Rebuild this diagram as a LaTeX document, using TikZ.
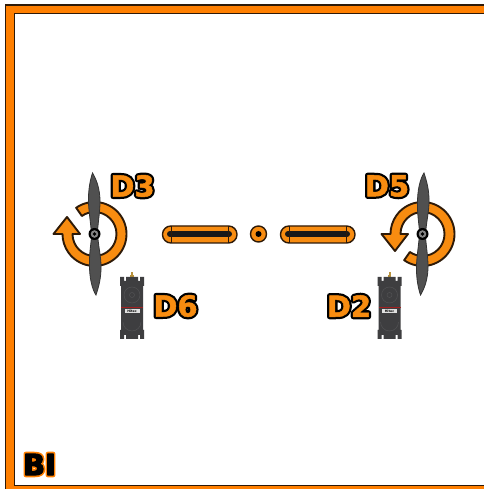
\documentclass[tikz,border=0pt]{standalone}
\usepackage{fontspec}
\setmainfont{DejaVu Sans}
\newfontfamily\heavyface{DejaVu Sans Bold}
\definecolor{band}{HTML}{FF7F00}
\definecolor{ringfill}{HTML}{F88C10}
\definecolor{edge}{HTML}{2E1A08}
\definecolor{blade}{HTML}{505050}
\definecolor{servobody}{HTML}{3E3E40}
\definecolor{servomark}{HTML}{525254}
\definecolor{stripe}{HTML}{A02020}
\definecolor{gold}{HTML}{B8923C}
\newcommand{\outlinedtext}[5]{\special{pdf:code 1 Tr #2 w 1 j #3 RG}\rlap{#1}\special{pdf:code 2 Tr #4 w #5 RG}#1\special{pdf:code 0 Tr 0 j}}
\tikzset{
  x=1pt,y=1pt,
  bandline/.style={draw=edge,line width=10pt},
  bandfill/.style={draw=band,line width=7.4pt},
  ringarrow/.style={fill=ringfill,draw=edge,line width=1.9pt,line join=round},
  bladeshape/.style={fill=blade,draw=black!80,line width=.8pt},
  capsule/.style={fill=ringfill,draw=edge,line width=1.4pt,rounded corners=8.4pt},
  capbar/.style={draw=black!90,line width=6pt,line cap=round},
  capline/.style={draw=edge,line width=1pt},
  big/.style={inner sep=0pt,font=\heavyface\fontsize{29}{30}\selectfont,text=ringfill},
  pics/rotor/.style={code={
    \path[ringarrow] (125:32) arc[start angle=125,end angle=-180,radius=32]
      -- (-41,0) -- (-27.5,17) -- (-14.5,0) -- (-22,0)
      arc[start angle=-180,end angle=125,radius=22] -- cycle;
    \path[bladeshape] (-3,0) .. controls (-4,14) and (-6.5,26) .. (-6,38)
      .. controls (-5.5,50) and (-3,58) .. (-2,61) .. controls (1,56) and (6,46) .. (5.5,30)
      .. controls (5,18) and (3,8) .. (3,0) -- cycle;
    \path[bladeshape] (3,0) .. controls (4,-14) and (7,-24) .. (6.5,-36)
      .. controls (6,-48) and (3,-56) .. (1.5,-61) .. controls (-2,-56) and (-5.5,-44) .. (-5,-28)
      .. controls (-5,-16) and (-3,-8) .. (-3,0) -- cycle;
    \fill[black] (0,0) circle[radius=6];
    \fill[blade!70!white] (0,0) circle[radius=3.8];
    \fill[black] (0,0) circle[radius=1.8];
  }},
  pics/servo/.style={code={
    \fill[gold] (-1,31) rectangle (1,36);
    \fill[gold] (-1.8,31) rectangle (1.8,33);
    \path[fill=servobody] (-12,31) -- (-8,31) -- (-8,27) -- (-6,27) -- (-6,31) -- (6,31) -- (6,27)
      -- (8,27) -- (8,31) -- (12,31) -- (12,22) -- (11,22) -- (11,-22) -- (12,-22) -- (12,-31)
      -- (8,-31) -- (8,-27) -- (6,-27) -- (6,-31) -- (-6,-31) -- (-6,-27) -- (-8,-27) -- (-8,-31)
      -- (-12,-31) -- (-12,-22) -- (-11,-22) -- (-11,22) -- (-12,22) -- cycle;
    \draw[servomark,line width=.5pt] (0,13) circle[radius=8];
    \draw[servomark,line width=.5pt] (0,13) circle[radius=2.5];
    \draw[servomark,line width=.5pt] (-9,-14) arc[start angle=180,end angle=360,radius=9];
    \fill[stripe] (-11,-.5) rectangle (11,1);
    \fill[white!88!black] (-7.5,-5.5) rectangle (7.5,-1);
    \node[inner sep=0pt,font=\heavyface\fontsize{3.2}{3.2}\selectfont,text=black] at (0,-3.2) {Hitec};
  }},
}
\begin{document}
\begin{tikzpicture}
\useasboundingbox (0,0) rectangle (483,489);
\fill[white] (0,0) rectangle (483,489);
% frame (open on the right)
\path[bandline] (495,479.5) -- (10,479.5) -- (10,-1) -- (495,-1);
\path[bandfill] (495,479.5) -- (10,479.5) -- (10,-1) -- (495,-1);
% rotors
\pic at (94.5,255) {rotor};
\pic[yscale=-1] at (422.5,255) {rotor};
% capsules
\path[capsule] (162.5,246) rectangle (237,263);
\draw[capbar] (170,255) -- (229,255);
\draw[capline] (171,246) -- (171,263);
\draw[capline] (228,246) -- (228,263);
\path[capsule] (280.5,246) rectangle (355,263);
\draw[capbar] (288,255) -- (347,255);
\draw[capline] (289,246) -- (289,263);
\draw[capline] (346.5,246) -- (346.5,263);
\fill[ringfill,draw=edge,line width=1.4pt] (258.5,255) circle[radius=8];
\fill[black] (258.5,255) circle[radius=3];
% servos
\pic at (132,181) {servo};
\pic at (389.5,181) {servo};
% labels
\node[big,anchor=center] (d3) at (132.5,303) {\outlinedtext{D3}{5}{0 0 0}{.5}{.97 .55 .06}};
\node[big,anchor=center] (d5) at (387,303) {\outlinedtext{D5}{5}{0 0 0}{.5}{.97 .55 .06}};
\node[big,anchor=center] (d6) at (175.5,183) {\outlinedtext{D6}{5}{0 0 0}{.5}{.97 .55 .06}};
\node[big,anchor=center] (d2) at (349,183) {\outlinedtext{D2}{5}{0 0 0}{.5}{.97 .55 .06}};
\node[big,anchor=center,text=black] (bi) at (39.5,24.5) {\outlinedtext{BI}{4.4}{1 .5 0}{1.2}{0 0 0}};
\end{tikzpicture}
\end{document}
